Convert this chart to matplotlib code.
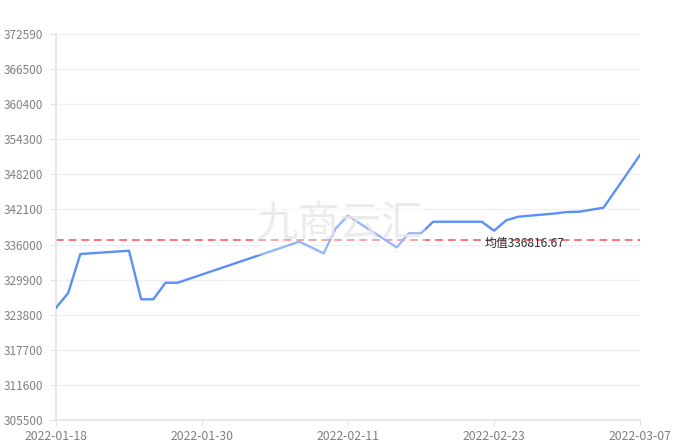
import pandas as pd
import matplotlib
matplotlib.use('Agg')
import matplotlib.pyplot as plt
import matplotlib.dates as mdates
import matplotlib.transforms as mtransforms
from matplotlib.patches import Rectangle

plt.rcParams['font.family'] = ['Noto Sans CJK SC', 'DejaVu Sans']
plt.rcParams['axes.unicode_minus'] = False

dates = ["2022-01-18", "2022-01-19", "2022-01-20", "2022-01-24", "2022-01-25",
         "2022-01-26", "2022-01-27", "2022-01-28", "2022-02-07", "2022-02-09",
         "2022-02-10", "2022-02-11", "2022-02-15", "2022-02-16", "2022-02-17",
         "2022-02-18", "2022-02-22", "2022-02-23", "2022-02-24", "2022-02-25",
         "2022-02-28", "2022-03-01", "2022-03-02", "2022-03-04", "2022-03-07"]
values = [325000, 327570, 334350, 334920, 326480,
          326480, 329360, 329360, 336500, 334470,
          338820, 341000, 335510, 337950, 337950,
          339960, 339960, 338400, 340200, 340830,
          341400, 341650, 341700, 342400, 351560]
mean_value = 336816.67
mean_label = "均值336816.67"

y_ticks = [305500, 311600, 317700, 323800, 329900, 336000,
           342100, 348200, 354300, 360400, 366500, 372590]
x_ticks = ["2022-01-18", "2022-01-30", "2022-02-11", "2022-02-23", "2022-03-07"]
watermark = "九商云汇"

x = pd.to_datetime(dates)

fig = plt.figure(figsize=(6.77, 4.47), dpi=100)
ax = fig.add_axes([56 / 677, 27 / 447, 584 / 677, 386 / 447])

ax.plot(x, values, color="#5B8FF9", linewidth=1.7, zorder=3)
ax.axhline(mean_value, color="#F4757A", linewidth=1.4, linestyle=(0, (4, 2.5)), zorder=2)
# label sits a few pixels under the mean line
shift = mtransforms.offset_copy(ax.get_yaxis_transform(), fig=fig, y=-2.5, units='points')
ax.text(0.7346, mean_value, mean_label, transform=shift,
        fontsize=8.6, color="#333333", va="center", ha="left", zorder=5)

# watermark with a faint white box over the lines
ax.add_patch(Rectangle((0.344, 0.4275), 0.288, 0.156, transform=ax.transAxes,
                       facecolor="white", edgecolor="none", alpha=0.35, zorder=4))
ax.text(0.486, 0.505, watermark, transform=ax.transAxes, fontsize=30,
        color="#e6e6e6", alpha=0.8, ha="center", va="center", zorder=4)

ax.set_ylim(305500, 372590)
ax.set_yticks(y_ticks)
ax.set_yticklabels([str(v) for v in y_ticks])
ax.set_xlim(pd.Timestamp(x_ticks[0]), pd.Timestamp(x_ticks[-1]))
ax.set_xticks(pd.to_datetime(x_ticks))
ax.xaxis.set_major_formatter(mdates.DateFormatter('%Y-%m-%d'))

ax.grid(True, axis='y', color="#f0f0f0", linewidth=1)
ax.set_axisbelow(True)
for s in ['top', 'right']:
    ax.spines[s].set_visible(False)
for s in ['left', 'bottom']:
    ax.spines[s].set_color("#e3e3e3")
    ax.spines[s].set_linewidth(1.2)

ax.tick_params(axis='y', length=4, color="#e3e3e3", labelcolor="#808080", labelsize=8.5, pad=5)
ax.tick_params(axis='x', length=4, color="#e3e3e3", labelcolor="#808080", labelsize=8.8, pad=3)

fig.savefig("out.png", dpi=100)
plt.close()
